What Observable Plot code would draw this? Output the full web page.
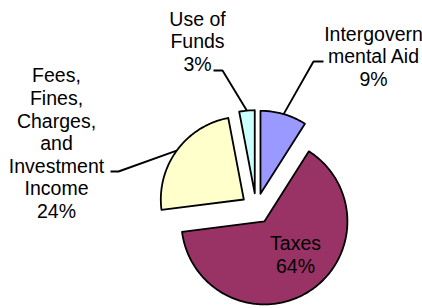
<!DOCTYPE html>
<html>
<head>
<meta charset="utf-8">
<script src="https://cdn.jsdelivr.net/npm/d3@7"></script>
<script src="https://cdn.jsdelivr.net/npm/@observablehq/plot@0.6"></script>
<style>
  html, body { margin: 0; padding: 0; background: #fff; }
  #chart { width: 422px; height: 308px; }
</style>
</head>
<body>
<div id="chart"></div>
<script>
// ---- data ----
const categories = ["Intergovernmental Aid", "Taxes", "Fees, Fines, Charges, and Investment Income", "Use of Funds"];
const shares = [9, 64, 24, 3];
const labelTexts = ["Intergovern\nmental Aid", "Taxes", "Fees,\nFines,\nCharges,\nand\nInvestment\nIncome", "Use of\nFunds"];
const colors = ["#9999FF", "#993366", "#FFFFCC", "#CCFFFF"];

// ---- layout (pixel space) ----
const W = 422, H = 308;
const pie = {cx: 255.7, cy: 208, r: 83, explode: 15.3};
const labelPos = [[373, 55.5], [295, 253.5], [56, 142.5], [197, 40.5]];
const leaderElbows = [[[313, 61], [323, 61]], null, [[118, 171], [110, 171]], [[222, 70], [213, 70]]];

const total = d3.sum(shares);
const slicePts = [];
const leaderPts = [];
const labels = [];
let acc = 0;
categories.forEach((name, i) => {
  const a0 = acc / total * 2 * Math.PI;
  const a1 = (acc + shares[i]) / total * 2 * Math.PI;
  acc += shares[i];
  const mid = (a0 + a1) / 2;
  const ox = pie.cx + pie.explode * Math.sin(mid);
  const oy = pie.cy - pie.explode * Math.cos(mid);
  const pts = [[ox, oy]];
  const n = Math.max(2, Math.ceil((a1 - a0) / (Math.PI / 180)));
  for (let k = 0; k <= n; k++) {
    const a = a0 + (a1 - a0) * k / n;
    pts.push([ox + pie.r * Math.sin(a), oy - pie.r * Math.cos(a)]);
  }
  pts.push([ox, oy]);
  pts.forEach(([x, y], j) => slicePts.push({name, x, y, j}));
  if (leaderElbows[i]) {
    const sx = ox + pie.r * Math.sin(mid), sy = oy - pie.r * Math.cos(mid);
    leaderPts.push({name, x: sx, y: sy});
    leaderElbows[i].forEach(([x, y]) => leaderPts.push({name, x, y}));
  }
  labels.push({name, x: labelPos[i][0], y: labelPos[i][1], text: `${labelTexts[i]}\n${shares[i]}%`});
});

const chart = Plot.plot({
  width: W,
  height: H,
  margin: 0,
  x: {domain: [0, W], range: [0, W], axis: null},
  y: {domain: [0, H], range: [0, H], axis: null},
  color: {domain: categories, range: colors},
  style: {background: "#fff"},
  marks: [
    Plot.line(slicePts, {x: "x", y: "y", z: "name", fill: "name", stroke: "black", strokeWidth: 1.8, curve: "linear", strokeLinejoin: "round"}),
    Plot.line(leaderPts, {x: "x", y: "y", z: "name", stroke: "black", strokeWidth: 1.9, curve: "linear", strokeLinejoin: "miter", strokeLinecap: "butt"}),
    Plot.text(labels, {x: "x", y: "y", text: "text", fill: "black", fontSize: 19.5, lineHeight: 1.16, textAnchor: "middle", fontFamily: "Liberation Sans, Arial, sans-serif"})
  ]
});
document.getElementById("chart").appendChild(chart);
</script>
</body>
</html>
